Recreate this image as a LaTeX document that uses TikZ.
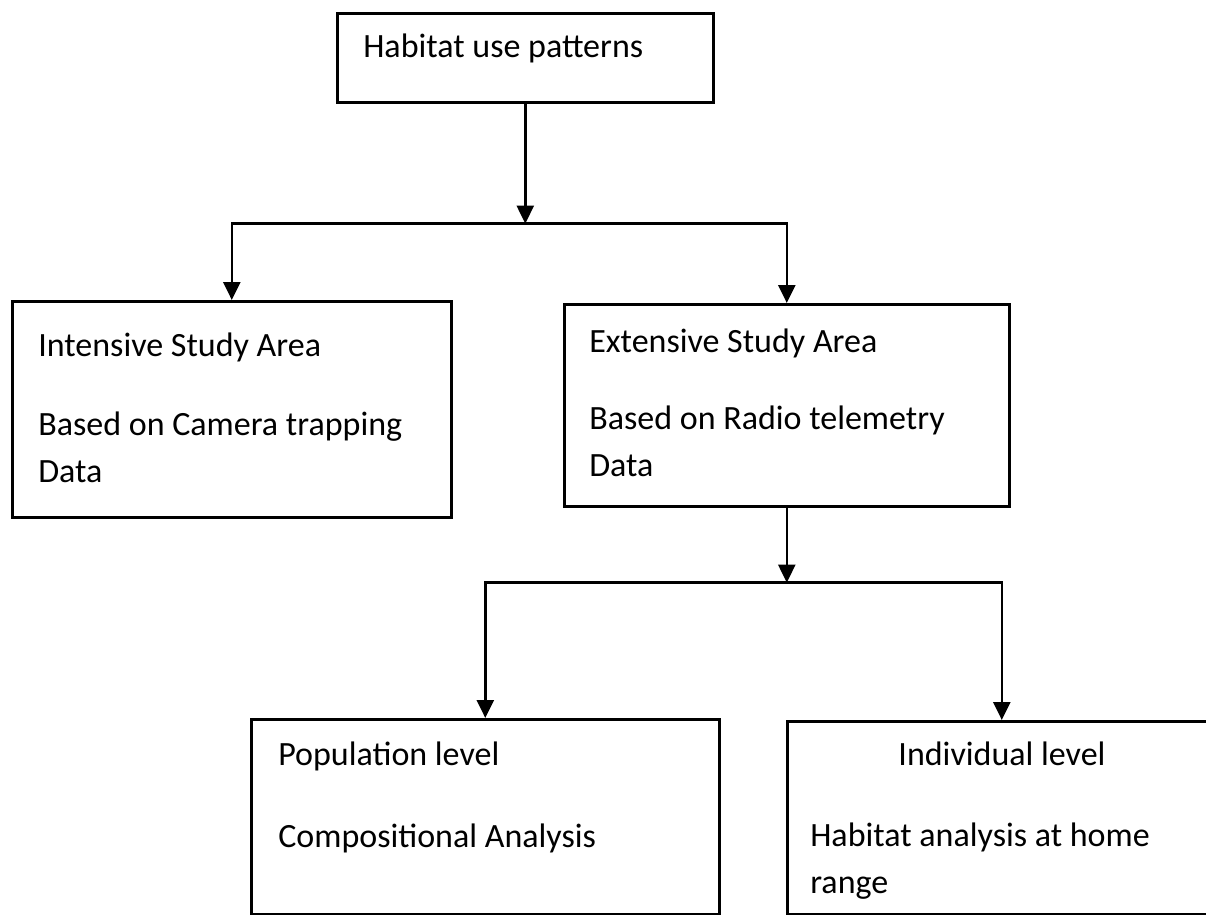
\documentclass[tikz,border=0pt]{standalone}
\usepackage{fontspec}
\setmainfont{Carlito}
\usetikzlibrary{arrows.meta}
\tikzset{
  every picture/.style={
    line width=1.3pt,
    >={Triangle[width=8.5pt, length=9pt]}
  },
  box/.style={
    draw, rectangle, anchor=north west,
    inner sep=0pt
  },
  txt/.style={
    anchor=base west, inner sep=0pt, align=left,
    font=\fontsize{17}{23.5}\selectfont
  }
}

\begin{document}
\begin{tikzpicture}[x=0.5pt,y=-0.5pt]
  \useasboundingbox (0,0) rectangle (1206,915);
  \clip (0,0) rectangle (1206,915);
  % boxes
  \node [box,minimum width=188pt,minimum height=44.5pt] (habitat) at (336,12) {};
  \node [box,minimum width=219.5pt,minimum height=108pt] (intensive) at (11,300) {};
  \node [box,minimum width=222.5pt,minimum height=101pt] (extensive) at (563,303) {};
  \node [box,minimum width=234pt,minimum height=97.5pt] (population) at (250,718) {};
  \node [box,minimum width=214.5pt,minimum height=96.5pt] (individual) at (786,720) {};
  % texts (base = last line)
  \node [txt] (habitat text) at (362,58) {Habitat use patterns};
  \node [txt] (intensive text) at (37,482)
    {Intensive Study Area\\[16pt] Based on Camera trapping\\ Data};
  \node [txt] (extensive text) at (588,476)
    {Extensive Study Area\\[15pt] Based on Radio telemetry\\ Data};
  \node [txt] (population text) at (277,847)
    {Population level\\[17.5pt] Compositional Analysis};
  \node [txt,anchor=base] (individual title) at (1002,765) {Individual level};
  \node [txt] (individual text) at (809,893) {Habitat analysis at home\\ range};
  % connectors
  \path (habitat.south) ++(0,120) coordinate (split1);
  \path (extensive.south) ++(0,75) coordinate (split2);
  \draw [->] (habitat.south) -- (split1);
  \draw [->] (split1) -| (intensive.north);
  \draw [->] (split1) -| (extensive.north);
  \draw [->] (extensive.south) -- (split2);
  \draw [->] (split2) -| (population.north);
  \draw [->] (split2) -| (individual.north);
\end{tikzpicture}
\end{document}
